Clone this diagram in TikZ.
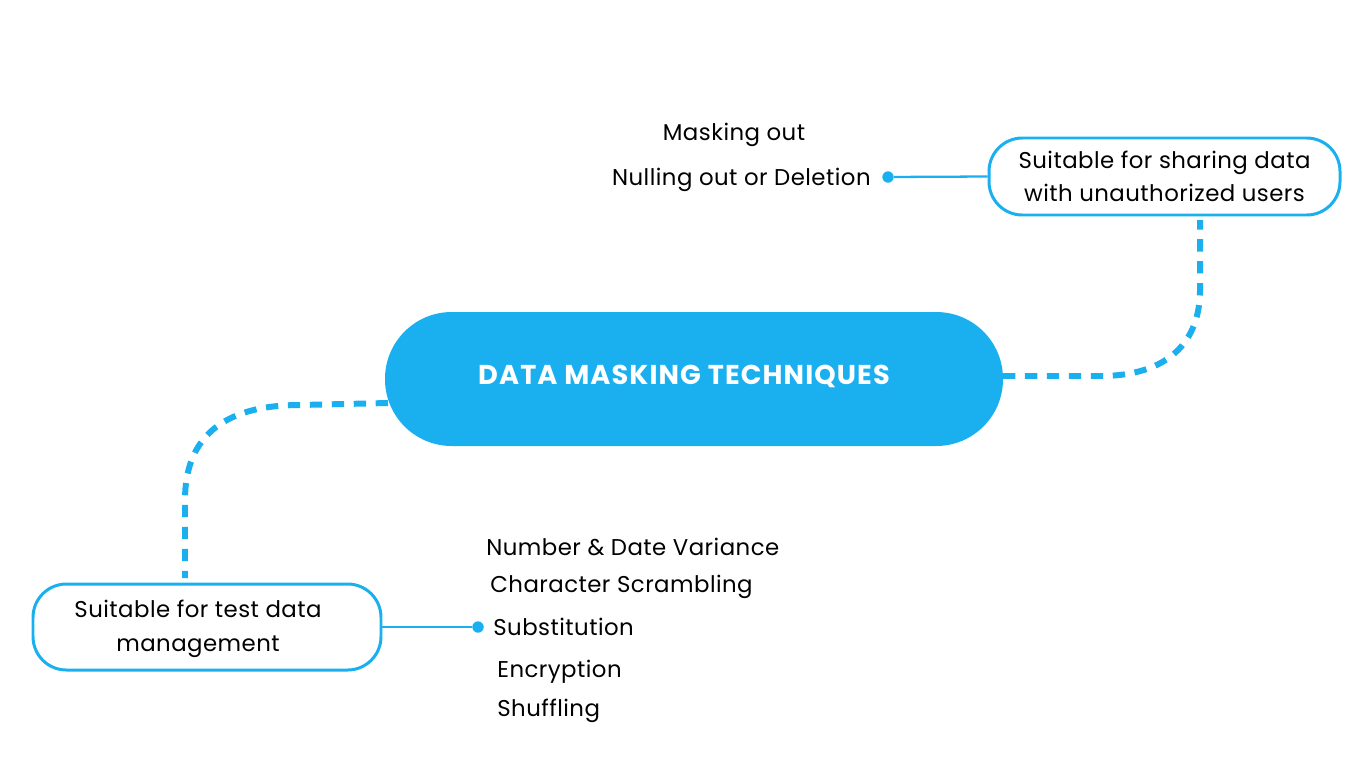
\documentclass[tikz,border=0pt]{standalone}
\usepackage{fontspec}
\setmainfont{Poppins}[LetterSpace=2]
\begin{document}
\begin{tikzpicture}[x=0.02cm,y=-0.02cm]
\definecolor{cy}{HTML}{1AB0F0}
\tikzset{
 box/.style={draw=cy,line width=1.7pt,rounded corners=19pt,align=center,font=\fontsize{13}{19}\selectfont,inner sep=0pt},
 lbl/.style={font=\fontsize{13}{15}\selectfont,inner sep=0pt},
 dashlink/.style={cy,line width=3.4pt,dash pattern=on 7pt off 5.5pt},
 con/.style={cy,line width=1.3pt},
 dot/.style={circle,fill=cy,inner sep=0pt,minimum size=6.5pt}
}
\useasboundingbox (0,0) rectangle (1366,768);
\node[fill=cy,rounded corners=38pt,minimum width=618*0.02cm,minimum height=134*0.02cm] (c) at (694,379) {};
\node[text=white,font=\bfseries\fontsize{15.5}{18}\selectfont] (ct) at (684,376) {\addfontfeature{LetterSpace=4}DATA MASKING TECHNIQUES};
\node[box,minimum width=351*0.02cm,minimum height=77*0.02cm] (tr) at (1164.5,176.5) {Suitable for sharing data\\with unauthorized users};
\node[draw=cy,line width=1.7pt,rounded corners=19pt,minimum width=348*0.02cm,minimum height=86*0.02cm] (bl) at (207,627) {};
\node[align=center,font=\fontsize{13}{19}\selectfont] (blt) at (198,629) {Suitable for test data\\management};
\node[dot] (d1) at (888,177) {};
\node[dot] (d2) at (478,627) {};
\draw[con] (tr.west) -- (d1);
\draw[con] (bl.east) -- (d2);
\node[lbl] (m1) at (734,135) {Masking out};
\node[lbl,anchor=east] (m2) at (871,180) {Nulling out or Deletion};
\node[lbl,anchor=west] (s1) at (486,547) {Number \& Date Variance};
\node[lbl,anchor=west] (s2) at (490,587) {Character Scrambling};
\node[lbl,anchor=west] (s3) at (493,627) {Substitution};
\node[lbl,anchor=west] (s4) at (497,672) {Encryption};
\node[lbl,anchor=west] (s5) at (497,711) {Shuffling};
\coordinate (a1) at (1003,376);
\coordinate (a2) at (1200,220);
\draw[dashlink] (a1) -- (1100,376) .. controls (1170,376) and (1200,340) .. (1200,290) -- (a2);
\coordinate (b1) at (388,403);
\coordinate (b2) at (185,578);
\draw[dashlink] (b1) -- (300,405) .. controls (220,405) and (185,440) .. (185,500) -- (b2);
\end{tikzpicture}
\end{document}
